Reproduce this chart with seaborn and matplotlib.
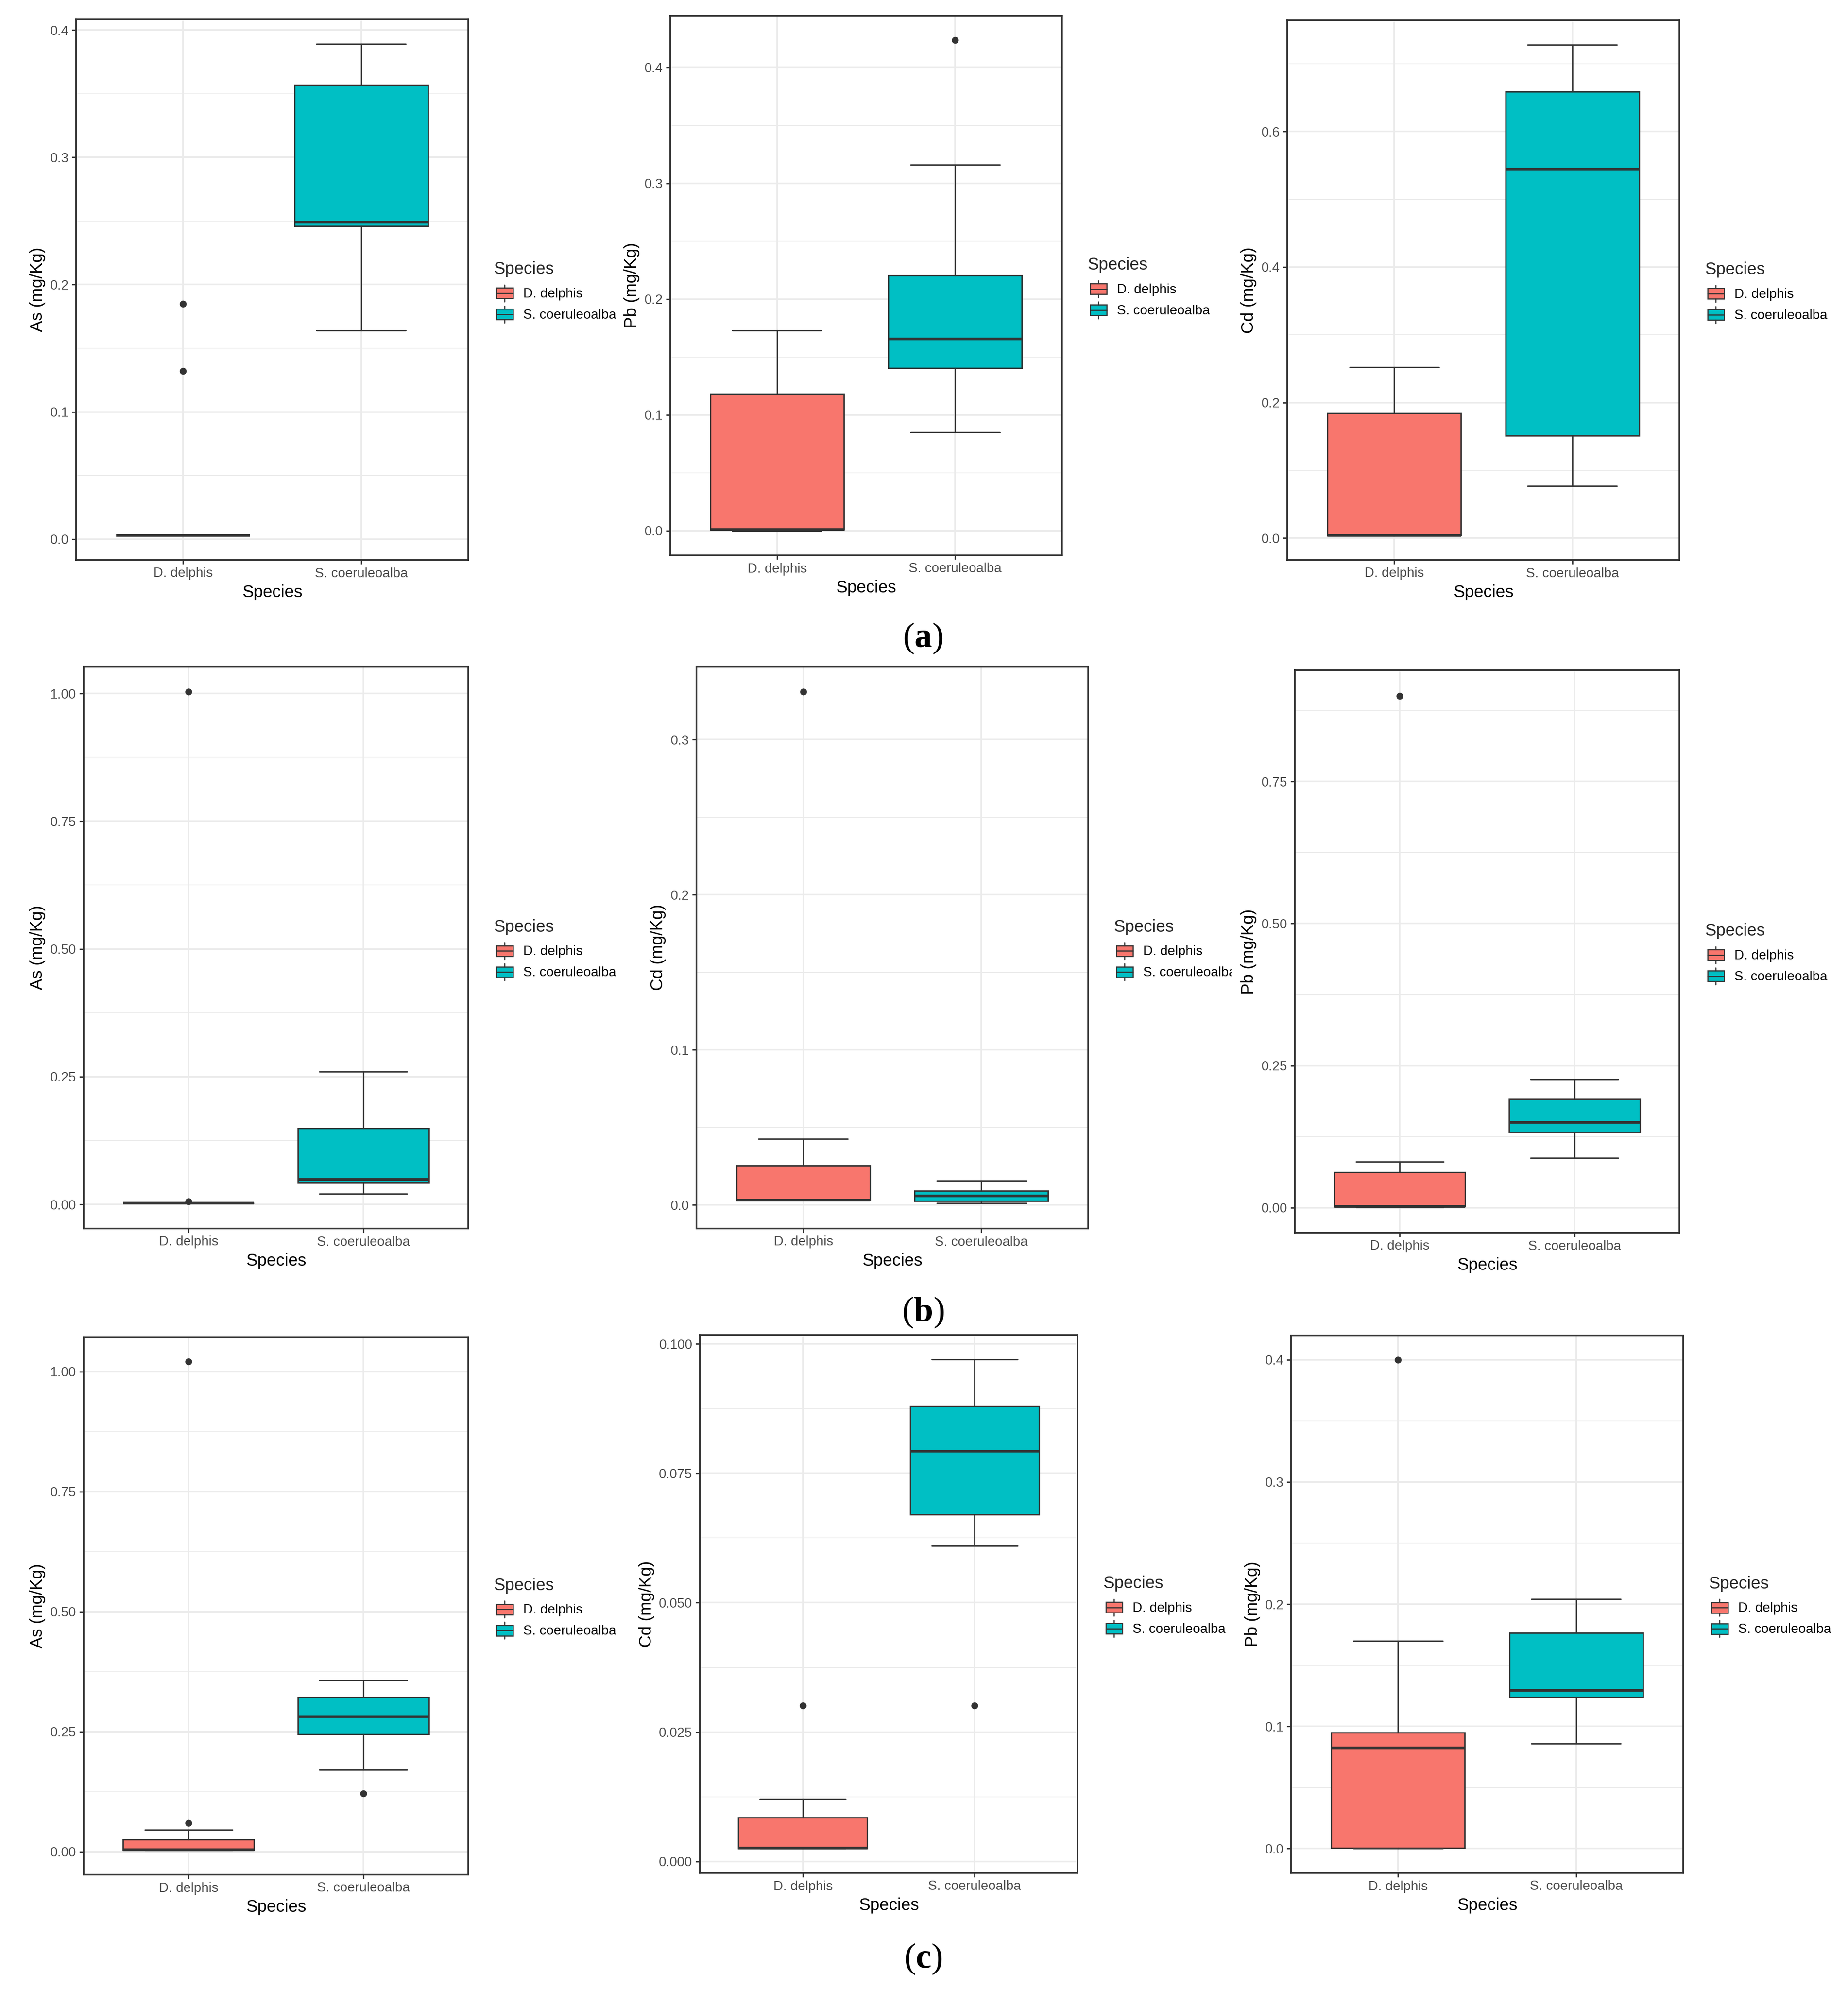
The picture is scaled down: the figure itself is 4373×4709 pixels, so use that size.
import numpy as np
import matplotlib
matplotlib.use("Agg")
import matplotlib.pyplot as plt
import seaborn as sns
from matplotlib.patches import Rectangle, Patch
from matplotlib.lines import Line2D
from matplotlib.legend_handler import HandlerBase
from matplotlib.transforms import Bbox, TransformedBbox

# ---------------- data ----------------
species = ["D. delphis", "S. coeruleoalba"]
colors = ["#F8766D", "#00BFC4"]

# each box: [lower whisker, Q1, median, Q3, upper whisker]
# (a)
a1_ylabel = "As (mg/Kg)"
a1_ticks = [0.0, 0.1, 0.2, 0.3, 0.4]
a1_ticklabels = ["0.0", "0.1", "0.2", "0.3", "0.4"]
a1_dd = [0.003, 0.003, 0.003, 0.003, 0.003]
a1_dd_out = [0.185, 0.132]
a1_sc = [0.164, 0.246, 0.249, 0.357, 0.389]
a1_sc_out = []

a2_ylabel = "Pb (mg/Kg)"
a2_ticks = [0.0, 0.1, 0.2, 0.3, 0.4]
a2_ticklabels = ["0.0", "0.1", "0.2", "0.3", "0.4"]
a2_dd = [0.0, 0.001, 0.001, 0.118, 0.173]
a2_dd_out = []
a2_sc = [0.085, 0.1405, 0.1657, 0.2205, 0.316]
a2_sc_out = [0.4235]

a3_ylabel = "Cd (mg/Kg)"
a3_ticks = [0.0, 0.2, 0.4, 0.6]
a3_ticklabels = ["0.0", "0.2", "0.4", "0.6"]
a3_dd = [0.004, 0.004, 0.004, 0.1844, 0.252]
a3_dd_out = []
a3_sc = [0.0767, 0.151, 0.5447, 0.659, 0.728]
a3_sc_out = []

# (b)
b1_ylabel = "As (mg/Kg)"
b1_ticks = [0.0, 0.25, 0.5, 0.75, 1.0]
b1_ticklabels = ["0.00", "0.25", "0.50", "0.75", "1.00"]
b1_dd = [0.003, 0.003, 0.003, 0.003, 0.003]
b1_dd_out = [1.003, 0.006]
b1_sc = [0.0205, 0.0434, 0.049, 0.149, 0.26]
b1_sc_out = []

b2_ylabel = "Cd (mg/Kg)"
b2_ticks = [0.0, 0.1, 0.2, 0.3]
b2_ticklabels = ["0.0", "0.1", "0.2", "0.3"]
b2_dd = [0.003, 0.003, 0.0031, 0.0255, 0.0426]
b2_dd_out = [0.3307]
b2_sc = [0.0013, 0.0026, 0.0057, 0.0091, 0.0156]
b2_sc_out = []

b3_ylabel = "Pb (mg/Kg)"
b3_ticks = [0.0, 0.25, 0.5, 0.75]
b3_ticklabels = ["0.00", "0.25", "0.50", "0.75"]
b3_dd = [0.001, 0.002, 0.002, 0.0625, 0.081]
b3_dd_out = [0.9006]
b3_sc = [0.0874, 0.1328, 0.150, 0.191, 0.2259]
b3_sc_out = []

# (c)
c1_ylabel = "As (mg/Kg)"
c1_ticks = [0.0, 0.25, 0.5, 0.75, 1.0]
c1_ticklabels = ["0.00", "0.25", "0.50", "0.75", "1.00"]
c1_dd = [0.003, 0.003, 0.004, 0.0252, 0.0454]
c1_dd_out = [1.021, 0.0597]
c1_sc = [0.1706, 0.2445, 0.281, 0.322, 0.357]
c1_sc_out = [0.121]

c2_ylabel = "Cd (mg/Kg)"
c2_ticks = [0.0, 0.025, 0.05, 0.075, 0.1]
c2_ticklabels = ["0.000", "0.025", "0.050", "0.075", "0.100"]
c2_dd = [0.0025, 0.0025, 0.0026, 0.0085, 0.0121]
c2_dd_out = [0.0301]
c2_sc = [0.061, 0.067, 0.0793, 0.088, 0.097]
c2_sc_out = [0.0301]

c3_ylabel = "Pb (mg/Kg)"
c3_ticks = [0.0, 0.1, 0.2, 0.3, 0.4]
c3_ticklabels = ["0.0", "0.1", "0.2", "0.3", "0.4"]
c3_dd = [0.0, 0.0003, 0.0825, 0.095, 0.17]
c3_dd_out = [0.4]
c3_sc = [0.0858, 0.124, 0.1294, 0.1766, 0.2043]
c3_sc_out = []

row_labels = ["a", "b", "c"]

# ---------------- style ----------------
sns.set_theme(style="white")
plt.rcParams["font.family"] = ["Liberation Sans", "DejaVu Sans"]
plt.rcParams["mathtext.fontset"] = "custom"
plt.rcParams["mathtext.rm"] = "Liberation Serif"
plt.rcParams["mathtext.bf"] = "Liberation Serif:bold"
palette = sns.color_palette(colors)

EDGE = "#333333"
GRID = "#EBEBEB"
TICKC = "#4D4D4D"
BOX_LW = 0.8
FS_TICK = 7.6
FS_TITLE = 9.6

W, H = 4373, 4709
DPI = 300
fig = plt.figure(figsize=(W / DPI, H / DPI), dpi=DPI)
fig.patch.set_facecolor("white")

# axes rectangles in pixels: left, top, right, bottom
boxes_px = [
    (180, 46, 1108, 1325), (1586, 37, 2513, 1314), (3046, 48, 3974, 1325),
    (198, 1577, 1108, 2907), (1648, 1577, 2575, 2907), (3064, 1586, 3974, 2917),
    (198, 3164, 1108, 4436), (1656, 3159, 2550, 4432), (3055, 3160, 3983, 4432),
]
# right edge (px) where the legend of a panel is cropped in the reference
legend_clip_px = [None, None, None, None, 2914, None, None, None, None]

panels = [
    (a1_ylabel, a1_ticks, a1_ticklabels, a1_dd, a1_dd_out, a1_sc, a1_sc_out),
    (a2_ylabel, a2_ticks, a2_ticklabels, a2_dd, a2_dd_out, a2_sc, a2_sc_out),
    (a3_ylabel, a3_ticks, a3_ticklabels, a3_dd, a3_dd_out, a3_sc, a3_sc_out),
    (b1_ylabel, b1_ticks, b1_ticklabels, b1_dd, b1_dd_out, b1_sc, b1_sc_out),
    (b2_ylabel, b2_ticks, b2_ticklabels, b2_dd, b2_dd_out, b2_sc, b2_sc_out),
    (b3_ylabel, b3_ticks, b3_ticklabels, b3_dd, b3_dd_out, b3_sc, b3_sc_out),
    (c1_ylabel, c1_ticks, c1_ticklabels, c1_dd, c1_dd_out, c1_sc, c1_sc_out),
    (c2_ylabel, c2_ticks, c2_ticklabels, c2_dd, c2_dd_out, c2_sc, c2_sc_out),
    (c3_ylabel, c3_ticks, c3_ticklabels, c3_dd, c3_dd_out, c3_sc, c3_sc_out),
]


class BoxKey(HandlerBase):
    """ggplot-like boxplot legend key."""
    def create_artists(self, legend, orig_handle, xdescent, ydescent,
                       width, height, fontsize, trans):
        x0, y0 = -xdescent, -ydescent
        fc = orig_handle.get_facecolor()
        lw = BOX_LW * 0.8
        rect = Rectangle((x0 + 0.125 * width, y0 + 0.25 * height),
                         0.75 * width, 0.5 * height, facecolor=fc,
                         edgecolor=EDGE, lw=lw, transform=trans)
        med = Line2D([x0 + 0.125 * width, x0 + 0.875 * width],
                     [y0 + 0.5 * height] * 2, color=EDGE, lw=lw, transform=trans)
        w1 = Line2D([x0 + 0.5 * width] * 2, [y0 + 0.1 * height, y0 + 0.25 * height],
                    color=EDGE, lw=lw, transform=trans)
        w2 = Line2D([x0 + 0.5 * width] * 2, [y0 + 0.75 * height, y0 + 0.9 * height],
                    color=EDGE, lw=lw, transform=trans)
        return [rect, med, w1, w2]


def make_stats(box, out, label):
    return dict(whislo=box[0], q1=box[1], med=box[2], q3=box[3],
                whishi=box[4], fliers=np.array(out, dtype=float), label=label)


for (l, t, r, b), clip_px, (ylabel, ticks, ticklabels, dd, dd_out, sc, sc_out) in zip(
        boxes_px, legend_clip_px, panels):
    ax = fig.add_axes([l / W, 1 - b / H, (r - l) / W, (b - t) / H])
    stats = [make_stats(dd, dd_out, species[0]), make_stats(sc, sc_out, species[1])]
    bp = ax.bxp(stats, positions=[1, 2], widths=0.75, capwidths=0.5,
                patch_artist=True, showfliers=True, manage_ticks=False,
                boxprops=dict(edgecolor=EDGE, linewidth=BOX_LW),
                whiskerprops=dict(color=EDGE, linewidth=BOX_LW),
                capprops=dict(color=EDGE, linewidth=BOX_LW),
                medianprops=dict(color=EDGE, linewidth=BOX_LW * 1.9, solid_capstyle="butt"),
                flierprops=dict(marker="o", markersize=2.9, markerfacecolor=EDGE,
                                markeredgecolor=EDGE, linestyle="none"))
    for patch, c in zip(bp["boxes"], palette):
        patch.set_facecolor(c)
        patch.set_zorder(2)

    allv = np.concatenate([dd, sc, dd_out, sc_out]).astype(float)
    lo, hi = allv.min(), allv.max()
    pad = 0.05 * (hi - lo)
    ax.set_ylim(lo - pad, hi + pad)
    ax.set_xlim(0.4, 2.6)

    ax.set_yticks(ticks, ticklabels)
    step = ticks[1] - ticks[0]
    minor = [ticks[0] - step / 2] + [tk + step / 2 for tk in ticks]
    minor = [m for m in minor if lo - pad < m < hi + pad]
    ax.set_yticks(minor, minor=True)
    ax.set_xticks([1, 2], species)

    ax.set_axisbelow(True)
    ax.grid(which="major", color=GRID, linewidth=0.9)
    ax.grid(which="minor", axis="y", color=GRID, linewidth=0.45)
    ax.tick_params(which="major", direction="out", length=2.4, width=0.8,
                   color=EDGE, labelcolor=TICKC, labelsize=FS_TICK, pad=1.8,
                   bottom=True, left=True)
    ax.tick_params(which="minor", length=0)
    for s in ax.spines.values():
        s.set_color(EDGE)
        s.set_linewidth(0.9)
        s.set_visible(True)
    ax.set_facecolor("white")

    ax.set_xlabel("Species", fontsize=FS_TITLE, color="black", labelpad=2.5)
    ax.set_ylabel(ylabel, fontsize=FS_TITLE, color="black", labelpad=2.5)

    axw = r - l
    axh = b - t
    leg = ax.legend(handles=[Patch(facecolor=c) for c in palette], labels=species,
                    handler_map={Patch: BoxKey()}, title="Species",
                    loc="center left", bbox_to_anchor=(1 + 60 / axw, 0.5 - 8 / axh),
                    frameon=False, fontsize=FS_TICK, title_fontsize=FS_TITLE,
                    handlelength=1.67, handleheight=2.05, labelspacing=0.0,
                    handletextpad=0.55, borderpad=0, borderaxespad=0,
                    alignment="left")
    for txt in leg.get_texts():
        txt.set_color("black")
    try:
        leg._legend_box.sep = 3.0
    except Exception:
        pass
    if clip_px is not None:
        cb = TransformedBbox(Bbox([[0, 0], [clip_px / W, 1]]), fig.transFigure)
        for txt in leg.get_texts():
            txt.set_clip_box(cb)
            txt.set_clip_on(True)

# row labels (a), (b), (c)
label_y_px = [1511, 3106, 4636]
for lab, ypx in zip(row_labels, label_y_px):
    fig.text(2184 / W, 1 - ypx / H, r"$(\mathbf{" + lab + r"})$", fontsize=20,
             ha="center", va="center", color="black")

fig.savefig("out.png", dpi=DPI, facecolor="white")
